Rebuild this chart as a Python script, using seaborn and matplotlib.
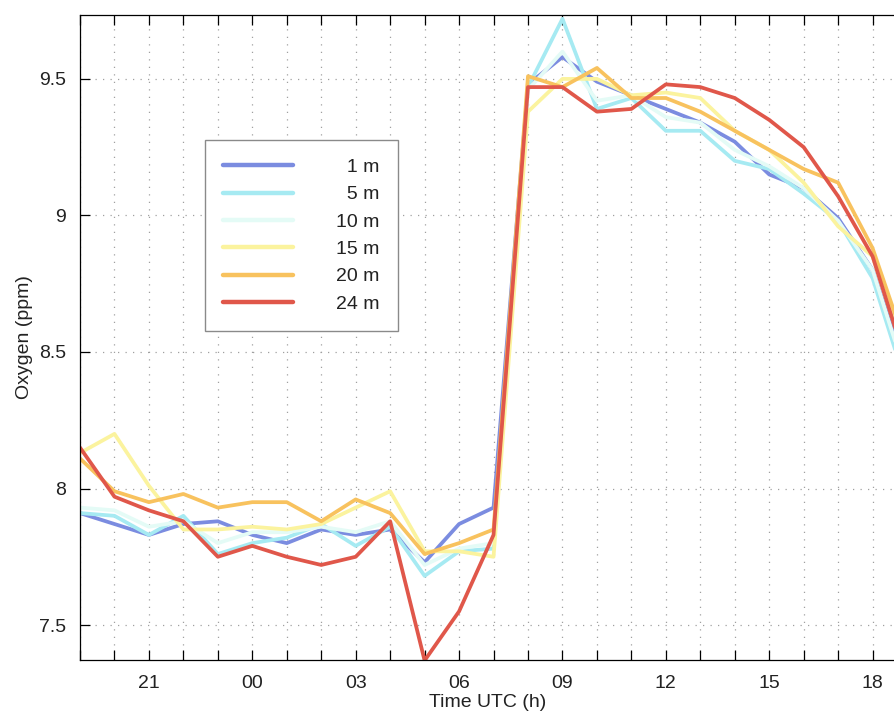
import numpy as np
import pandas as pd
import matplotlib
matplotlib.use("Agg")
import matplotlib.pyplot as plt
import seaborn as sns
from matplotlib.lines import Line2D

# ---- data ----
hours = [19, 20, 21, 22, 23, 24, 25, 26, 27, 28, 29, 30, 31,
         32, 33, 34, 35, 36, 37, 38, 39, 40, 41, 42, 43]
depths = ["1 m", "5 m", "10 m", "15 m", "20 m", "24 m"]

o2_1m = [7.91, 7.87, 7.83, 7.87, 7.88, 7.83, 7.80, 7.85, 7.83, 7.85, 7.73, 7.87, 7.93,
         9.48, 9.58, 9.49, 9.44, 9.39, 9.34, 9.27, 9.15, 9.10, 8.99, 8.80, 8.42]
o2_5m = [7.91, 7.90, 7.83, 7.90, 7.76, 7.80, 7.82, 7.87, 7.79, 7.86, 7.68, 7.77, 7.78,
         9.47, 9.72, 9.39, 9.43, 9.31, 9.31, 9.20, 9.17, 9.08, 8.98, 8.77, 8.37]
o2_10m = [7.93, 7.92, 7.86, 7.88, 7.80, 7.84, 7.84, 7.86, 7.84, 7.88, 7.72, 7.78, 7.80,
          9.46, 9.60, 9.42, 9.44, 9.36, 9.34, 9.24, 9.18, 9.10, 8.98, 8.80, 8.40]
o2_15m = [8.13, 8.20, 8.01, 7.85, 7.85, 7.86, 7.85, 7.87, 7.93, 7.99, 7.77, 7.77, 7.75,
          9.38, 9.50, 9.50, 9.44, 9.45, 9.43, 9.31, 9.24, 9.12, 8.96, 8.85, 8.47]
o2_20m = [8.11, 7.99, 7.95, 7.98, 7.93, 7.95, 7.95, 7.88, 7.96, 7.91, 7.76, 7.80, 7.85,
          9.51, 9.47, 9.54, 9.43, 9.43, 9.38, 9.31, 9.24, 9.17, 9.12, 8.88, 8.51]
o2_24m = [8.15, 7.97, 7.92, 7.88, 7.75, 7.79, 7.75, 7.72, 7.75, 7.88, 7.37, 7.55, 7.83,
          9.47, 9.47, 9.38, 9.39, 9.48, 9.47, 9.43, 9.35, 9.25, 9.07, 8.85, 8.45]

tick_hours = [21, 24, 27, 30, 33, 36, 39, 42]
tick_labels = ["21", "00", "03", "06", "09", "12", "15", "18"]
ytick_vals = [7.5, 8.0, 8.5, 9.0, 9.5]
ytick_labels = ["7.5", "8", "8.5", "9", "9.5"]

colors = ["#7b8ce0", "#a6eaf2", "#e4fbf6", "#fbf39e", "#f8c25e", "#e0574a"]

series = [o2_1m, o2_5m, o2_10m, o2_15m, o2_20m, o2_24m]
df = pd.concat(
    [pd.DataFrame({"hour": hours, "oxygen": vals, "depth": d})
     for d, vals in zip(depths, series)],
    ignore_index=True,
)

# ---- figure ----
sns.set_theme(style="white")
plt.rcParams["font.family"] = ["Liberation Sans", "DejaVu Sans"]

fig = plt.figure(figsize=(8.95, 7.21), dpi=100)
ax = fig.add_axes([80 / 895, 1 - 660 / 721, 1 - 80 / 895, (660 - 15) / 721])

sns.lineplot(data=df, x="hour", y="oxygen", hue="depth", hue_order=depths,
             palette=dict(zip(depths, colors)), linewidth=2.7, ax=ax,
             legend=False)

ax.set_xlim(19.0, 42.65)
ax.set_ylim(7.372, 9.734)

ax.set_xticks(np.arange(19, 43))
lab_map = dict(zip(tick_hours, tick_labels))
ax.set_xticklabels([lab_map.get(h, "") for h in range(19, 43)])
ax.set_yticks(ytick_vals)
ax.set_yticklabels(ytick_labels)

ax.tick_params(axis="both", direction="in", length=7, width=0.9,
               colors="black", labelsize=14, pad=10)
ax.tick_params(axis="x", top=True, bottom=True, pad=11)
ax.tick_params(axis="y", left=True, right=False)
for lab in ax.get_xticklabels() + ax.get_yticklabels():
    lab.set_color("#222222")

ax.grid(True, color="#a0a0a0", linestyle=(0, (1, 5)), linewidth=0.9)

for s in ["left", "bottom", "top"]:
    ax.spines[s].set_visible(True)
    ax.spines[s].set_color("black")
    ax.spines[s].set_linewidth(0.9)
ax.spines["right"].set_visible(False)

ax.set_xlabel("Time UTC (h)", fontsize=14, color="#222222", labelpad=1)
ax.set_ylabel("Oxygen (ppm)", fontsize=14, color="#222222", labelpad=4)

# legend with right-aligned labels
handles = [Line2D([0], [0], color=c, lw=3.2) for c in colors]
labels = [d.rjust(4, "\u2007") for d in depths]
leg = ax.legend(handles, labels, loc="upper left",
                bbox_to_anchor=((205 - 80) / 815, (660 - 140) / 645),
                frameon=True, fancybox=False, fontsize=14,
                handlelength=3.6, handletextpad=2.2, labelspacing=0.5,
                borderpad=0.95, borderaxespad=0)
leg.get_frame().set_edgecolor("#8a8a8a")
leg.get_frame().set_linewidth(1.0)
leg.get_frame().set_facecolor("white")
leg.get_frame().set_alpha(1)
for t in leg.get_texts():
    t.set_color("#222222")

fig.savefig("out.png", dpi=100)
